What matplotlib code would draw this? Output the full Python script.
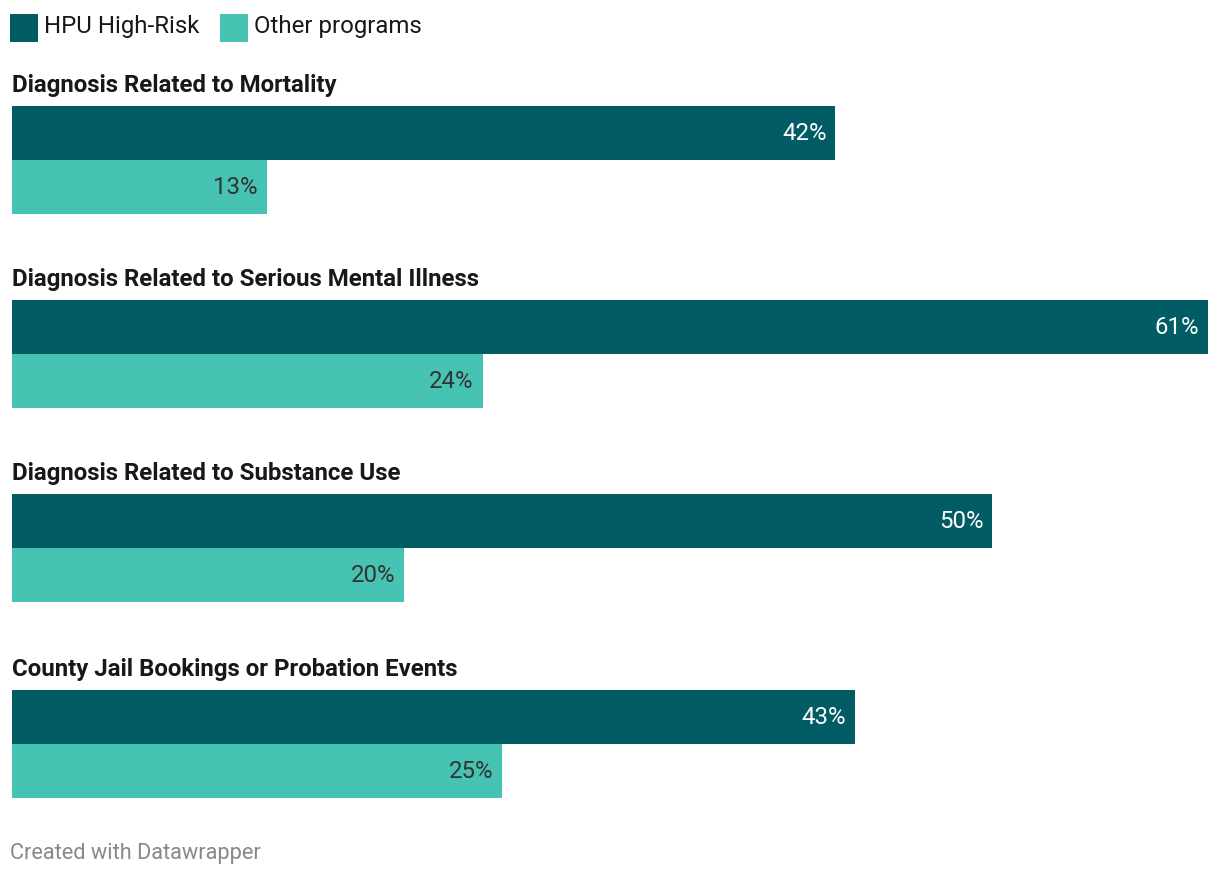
import matplotlib
matplotlib.use("Agg")
import matplotlib.pyplot as plt
from matplotlib.patches import Rectangle

categories = [
    "Diagnosis Related to Mortality",
    "Diagnosis Related to Serious Mental Illness",
    "Diagnosis Related to Substance Use",
    "County Jail Bookings or Probation Events",
]
series_names = ["HPU High-Risk", "Other programs"]
hpu_values = [42, 61, 50, 43]
other_values = [13, 24, 20, 25]

DARK = "#015c66"
LIGHT = "#46c3b2"
W, H = 1220, 874
plt.rcParams["font.family"] = ["Roboto", "DejaVu Sans"]

fig = plt.figure(figsize=(W / 100, H / 100), dpi=100)
fig.patch.set_facecolor("white")

ax = fig.add_axes([12 / W, 0, 1196 / W, 1])
ax.set_xlim(0, max(hpu_values))
ax.set_ylim(H, 0)
ax.axis("off")

group_top = [106, 300, 494, 690]
bar_h = 54
for i, cat in enumerate(categories):
    y0 = group_top[i]
    ax.barh(y0 + bar_h / 2, hpu_values[i], height=bar_h, left=0, color=DARK, linewidth=0)
    ax.barh(y0 + bar_h * 1.5, other_values[i], height=bar_h, left=0, color=LIGHT, linewidth=0)
    ax.annotate(f"{hpu_values[i]}%", xy=(hpu_values[i], y0 + bar_h / 2), xytext=(-9, -1),
                textcoords="offset pixels", ha="right", va="center", color="white", fontsize=17.3)
    ax.annotate(f"{other_values[i]}%", xy=(other_values[i], y0 + bar_h * 1.5), xytext=(-9, -1),
                textcoords="offset pixels", ha="right", va="center", color="#333333", fontsize=17.3)
    fig.text(12 / W, 1 - (y0 - 20.5) / H, cat, ha="left", va="center", fontsize=17.3,
             fontweight="bold", color="#181818")

fig.add_artist(Rectangle((10 / W, 1 - 42 / H), 28 / W, 28 / H, transform=fig.transFigure,
                         color=DARK, linewidth=0))
fig.text(44 / W, 1 - 26 / H, series_names[0], ha="left", va="center", fontsize=17.3, color="#181818")
fig.add_artist(Rectangle((220 / W, 1 - 42 / H), 28 / W, 28 / H, transform=fig.transFigure,
                         color=LIGHT, linewidth=0))
fig.text(254 / W, 1 - 26 / H, series_names[1], ha="left", va="center", fontsize=17.3, color="#181818")

fig.text(10 / W, 1 - 853 / H, "Created with Datawrapper", ha="left", va="center",
         fontsize=15.7, color="#888888")

fig.savefig("out.png", dpi=100, facecolor="white")
